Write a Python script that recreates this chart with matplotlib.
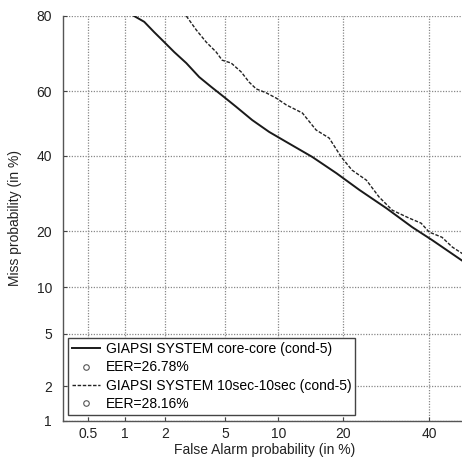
from statistics import NormalDist
import numpy as np
import matplotlib
matplotlib.use("Agg")
import matplotlib.pyplot as plt
from matplotlib.lines import Line2D

# DET curves, values in percent
fa_core = [1.18, 1.41, 1.67, 1.98, 2.33, 2.82, 3.44, 4.11, 4.95, 5.85, 7.23, 8.96, 11.0, 14.7,
           18.8, 23.3, 29.3, 35.6, 40.8, 48.6, 51.3]
miss_core = [80.0, 78.7, 76.3, 73.8, 71.2, 68.2, 64.2, 61.3, 58.2, 55.2, 51.1, 47.4, 44.3, 39.7,
             34.9, 30.2, 25.4, 20.9, 18.1, 14.3, 13.2]

fa_10s = [2.82, 3.29, 3.82, 4.42, 4.81, 5.46, 6.25, 6.95, 7.61, 8.64, 9.76, 11.0, 13.2, 15.3,
          17.5, 19.7, 21.8, 24.8, 27.6, 30.7, 34.8, 37.9, 40.0, 43.4, 46.2, 48.6, 51.3]
miss_10s = [80.0, 76.8, 73.8, 71.2, 69.0, 68.2, 65.7, 62.7, 60.7, 59.5, 57.9, 55.8, 53.3, 48.0,
            45.5, 39.7, 35.8, 32.9, 28.3, 24.9, 23.0, 21.8, 19.8, 18.7, 16.7, 15.6, 14.5]

labels = ["GIAPSI SYSTEM core-core (cond-5)", "EER=26.78%",
          "GIAPSI SYSTEM 10sec-10sec (cond-5)", "EER=28.16%"]

xticks = [0.5, 1, 2, 5, 10, 20, 40]
yticks = [1, 2, 5, 10, 20, 40, 60, 80]

nd = NormalDist()
_ppf = np.vectorize(lambda p: nd.inv_cdf(p), otypes=[float])
_cdf = np.vectorize(lambda z: nd.cdf(z), otypes=[float])


def fwd(p):
    # percent -> normal deviate
    p = np.clip(np.asarray(p, dtype=float) / 100.0, 1e-7, 1 - 1e-7)
    return _ppf(p)


def inv(z):
    return _cdf(np.asarray(z, dtype=float)) * 100.0


plt.rcParams['font.family'] = ['Liberation Sans', 'DejaVu Sans']
plt.rcParams['font.size'] = 10

fig = plt.figure(figsize=(4.62, 4.57), dpi=100)
ax = fig.add_axes([0.1364, 0.0788, 0.873, 0.8862])

ax.set_xscale('function', functions=(fwd, inv))
ax.set_yscale('function', functions=(fwd, inv))

ax.plot(fa_core, miss_core, color='#1a1a1a', lw=1.4, ls='-')
ax.plot(fa_10s, miss_10s, color='#222222', lw=1.0, ls=(0, (2.5, 1.2)))

ax.set_xlim(0.3, 50)
ax.set_ylim(1, 80)
ax.set_xticks(xticks)
ax.set_xticklabels([str(t) for t in xticks])
ax.set_yticks(yticks)
ax.set_yticklabels([str(t) for t in yticks])
ax.minorticks_off()

ax.grid(True, color='#888888', ls=(0, (1, 1.2)), lw=0.9)
ax.tick_params(direction='in', length=3, color='#444444', labelcolor='#222222', labelsize=10)
ax.tick_params(axis='x', pad=4)
ax.tick_params(axis='y', pad=8)
for s in ['top', 'right']:
    ax.spines[s].set_visible(False)
for s in ['left', 'bottom']:
    ax.spines[s].set_color('#555555')
    ax.spines[s].set_linewidth(1.0)

ax.set_xlabel('False Alarm probability (in %)', labelpad=2, color='#222222', fontsize=10)
ax.set_ylabel('Miss probability (in %)', labelpad=10, color='#222222', fontsize=10)

handles = [
    Line2D([], [], color='#1a1a1a', lw=1.4, ls='-'),
    Line2D([], [], color='#555555', marker='o', ls='none', mfc='white', ms=4, mew=0.8),
    Line2D([], [], color='#222222', lw=1.0, ls=(0, (2.5, 1.2))),
    Line2D([], [], color='#555555', marker='o', ls='none', mfc='white', ms=4, mew=0.8),
]
leg = ax.legend(handles, labels, loc='lower left', bbox_to_anchor=(0.0124, 0.0148),
                fancybox=False, framealpha=1, edgecolor='#444444', fontsize=10,
                handlelength=2.0, handletextpad=0.4, labelspacing=0.3,
                borderpad=0.3, borderaxespad=0)
leg.get_frame().set_linewidth(1.0)

fig.savefig('out.png', dpi=100)
